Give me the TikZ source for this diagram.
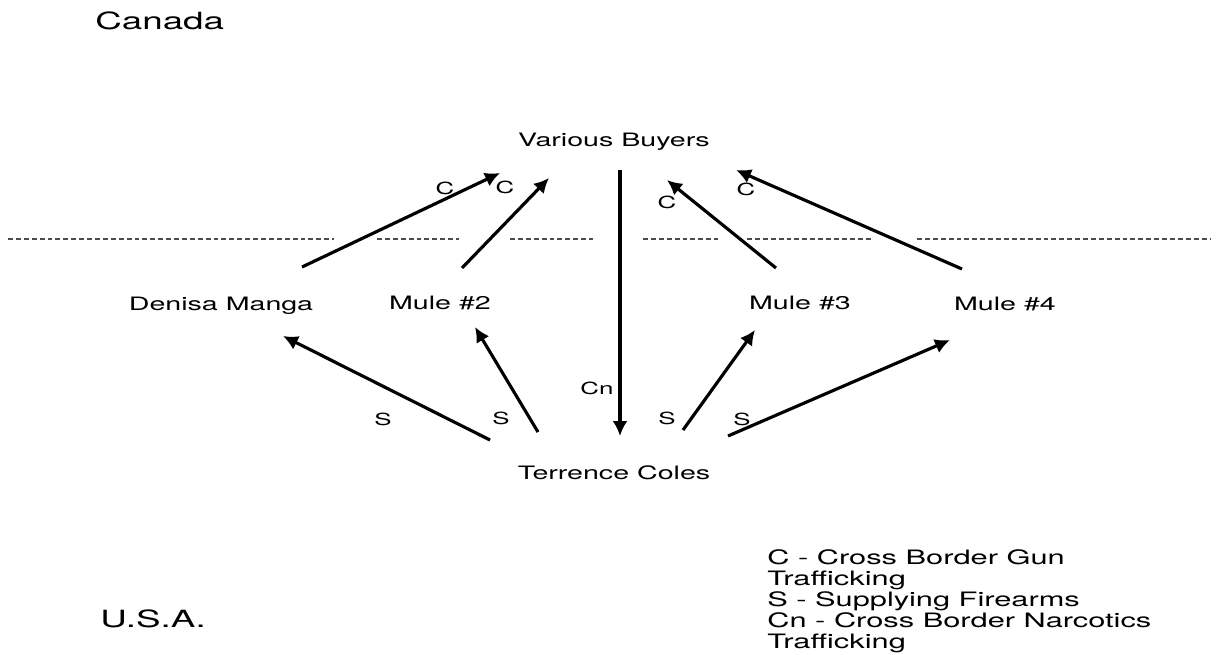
\documentclass[tikz,border=0pt]{standalone}
\usepackage{fontspec}
\setmainfont{TeX Gyre Heros}[FakeStretch=1.55]
\usetikzlibrary{arrows.meta}

\tikzset{
	who/.style={inner sep=0pt,anchor=base,font=\fontsize{10.5}{12}\selectfont},
	land/.style={inner sep=0pt,anchor=base west,font=\fontsize{13.5}{15}\selectfont},
	tag/.style={inner sep=0pt,font=\fontsize{9.5}{10}\selectfont},
	flow/.style={-{Latex[length=8.5pt,width=8.5pt]},line width=1.8pt},
	border/.style={black!70,line width=0.6pt,dash pattern=on 2.8pt off 1.7pt}
}

\begin{document}
\begin{tikzpicture}[
		x=0.02cm,y=-0.02cm,
		line cap=butt,
		line join=miter
		]
		\useasboundingbox (0,0) rectangle (1217,654);
		% countries
		\node[land] (ca) at (95,29) {Canada};
		\node[land] (us) at (100,627) {U.S.A.};
		% border
		\foreach \a/\b in {8/334,377/459,510/593,643/718,747/873,917/1210}
		\draw[border] (\a,239) -- (\b,239);
		% people
		\node[who] (vb) at (614,146) {Various Buyers};
		\node[who] (dm) at (221,310) {Denisa Manga};
		\node[who] (m2) at (440,309) {Mule \#2};
		\node[who] (m3) at (800,309) {Mule \#3};
		\node[who] (m4) at (1005,310) {Mule \#4};
		\node[who] (tc) at (614,479) {Terrence Coles};
		% arrow ends
		\coordinate (dm-up) at (302,267);
		\coordinate (m2-up) at (462,268);
		\coordinate (m3-up) at (776,268);
		\coordinate (m4-up) at (962,269);
		\coordinate (vb-dm) at (500,173);
		\coordinate (vb-m2) at (549,178);
		\coordinate (vb-m3) at (667,180);
		\coordinate (vb-m4) at (736,170);
		\coordinate (vb-down) at (620,170);
		\coordinate (tc-up) at (620,436);
		\coordinate (tc-dm) at (490,440);
		\coordinate (tc-m2) at (538,432);
		\coordinate (tc-m3) at (683,430);
		\coordinate (tc-m4) at (728,436);
		\coordinate (dm-down) at (283,336);
		\coordinate (m2-down) at (475,327);
		\coordinate (m3-down) at (755,330);
		\coordinate (m4-down) at (950,340);
		% guns across the border
		\draw[flow] (dm-up) -- (vb-dm);
		\draw[flow] (m2-up) -- (vb-m2);
		\draw[flow] (m3-up) -- (vb-m3);
		\draw[flow] (m4-up) -- (vb-m4);
		\node[tag] (c1) at (445,188) {C};
		\node[tag] (c2) at (505,187) {C};
		\node[tag] (c3) at (667,202) {C};
		\node[tag] (c4) at (746,189) {C};
		% narcotics
		\draw[flow,line width=2.1pt] (vb-down) -- (tc-up);
		\node[tag] (cn) at (597,388) {Cn};
		% supplying
		\draw[flow] (tc-dm) -- (dm-down);
		\draw[flow] (tc-m2) -- (m2-down);
		\draw[flow] (tc-m3) -- (m3-down);
		\draw[flow] (tc-m4) -- (m4-down);
		\node[tag] (s1) at (383,419) {S};
		\node[tag] (s2) at (501,418) {S};
		\node[tag] (s3) at (667,418) {S};
		\node[tag] (s4) at (742,419) {S};
		% legend
		\node[inner sep=0pt,anchor=north west,align=left,
		font=\fontsize{11.3}{12}\selectfont] (key) at (767,549)
		{C - Cross Border Gun\\Trafficking\\S - Supplying Firearms\\Cn - Cross Border Narcotics\\Trafficking};
\end{tikzpicture}
\end{document}
